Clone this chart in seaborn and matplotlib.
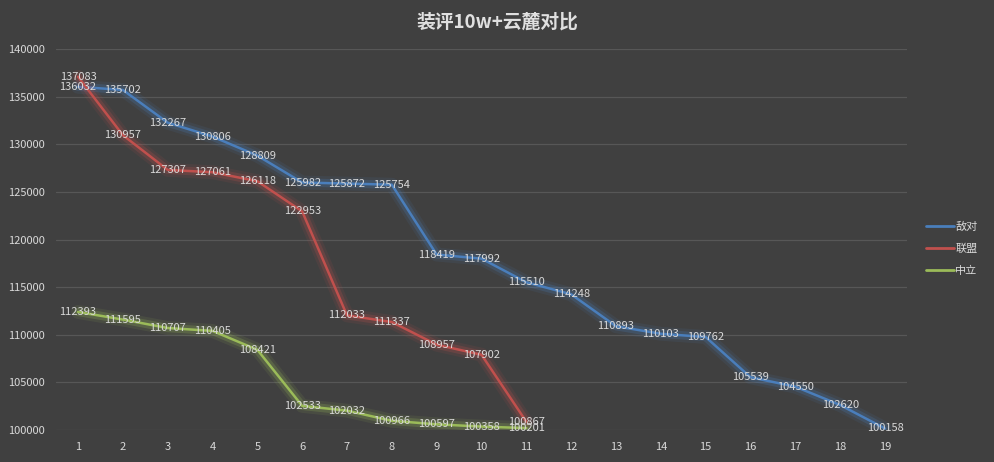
import numpy as np
import pandas as pd
import matplotlib
matplotlib.use('Agg')
import matplotlib.pyplot as plt
import seaborn as sns
from matplotlib import patheffects as pe
from matplotlib.lines import Line2D

title = '装评10w+云麓对比'
series_names = ['敌对', '联盟', '中立']
didui = [136032, 135702, 132267, 130806, 128809, 125982, 125872, 125754, 118419,
         117992, 115510, 114248, 110893, 110103, 109762, 105539, 104550, 102620, 100158]
lianmeng = [137083, 130957, 127307, 127061, 126118, 122953, 112033, 111337, 108957,
            107902, 100867]
zhongli = [112393, 111595, 110707, 110405, 108421, 102533, 102032, 100966, 100597,
           100358, 100201]
y_ticks = [100000, 105000, 110000, 115000, 120000, 125000, 130000, 135000, 140000]
x_ticks = list(range(1, 20))
colors = ['#4a7ebb', '#c0504d', '#9bbb59']

all_series = [didui, lianmeng, zhongli]
rows = []
for name, vals in zip(series_names, all_series):
    for i, v in enumerate(vals):
        rows.append({'x': i + 1, 'value': v, 'series': name})
df = pd.DataFrame(rows)

sns.set_theme(style='dark')
plt.rcParams['font.family'] = ['Noto Sans CJK SC', 'DejaVu Sans']
plt.rcParams['axes.unicode_minus'] = False

bg = '#404040'
txt = '#d9d9d9'
fig = plt.figure(figsize=(9.95, 4.62), dpi=100, facecolor=bg)
ax = fig.add_axes([55.6 / 995, 32 / 462, (907.4 - 55.6) / 995, 381 / 462])
ax.set_facecolor(bg)

palette = dict(zip(series_names, colors))
sns.lineplot(data=df, x='x', y='value', hue='series', palette=palette,
             hue_order=series_names, linewidth=1.8, ax=ax, legend=False,
             sort=False, estimator=None)

for line, c in zip(ax.lines, colors):
    line.set_path_effects([
        pe.Stroke(linewidth=10, foreground=c, alpha=0.10),
        pe.Stroke(linewidth=6, foreground=c, alpha=0.22),
        pe.Normal(),
    ])
    line.set_solid_joinstyle('round')

for vals in all_series:
    for i, v in enumerate(vals):
        ax.text(i + 1, v, str(v), ha='center', va='center', color=txt,
                fontsize=8, zorder=5)

ax.set_xlim(0.5, 19.5)
ax.set_ylim(100000, 140000)
ax.set_xticks(x_ticks)
ax.set_xticklabels([str(t) for t in x_ticks])
ax.set_yticks(y_ticks)
ax.set_yticklabels([str(t) for t in y_ticks])
ax.tick_params(axis='x', colors=txt, labelsize=8, length=0, pad=9)
ax.tick_params(axis='y', colors=txt, labelsize=8, length=0, pad=8)
ax.yaxis.grid(True, color='#575757', linewidth=0.9)
ax.xaxis.grid(False)
for s in ax.spines.values():
    s.set_visible(False)
ax.set_xlabel('')
ax.set_ylabel('')

fig.text(0.5, 1 - 22 / 462, title, ha='center', va='center', fontsize=13.5,
         fontweight='bold', color='#e0e0e0')

handles = [Line2D([0], [0], color=c, linewidth=2) for c in colors]
fig.legend(handles, series_names, loc='center left',
           bbox_to_anchor=(926 / 995, 1 - 249 / 462), frameon=False,
           fontsize=8, labelcolor=txt, handlelength=2.5, handletextpad=0.15,
           labelspacing=1.05, borderpad=0, borderaxespad=0)

fig.savefig('out.png', dpi=100, facecolor=bg)
